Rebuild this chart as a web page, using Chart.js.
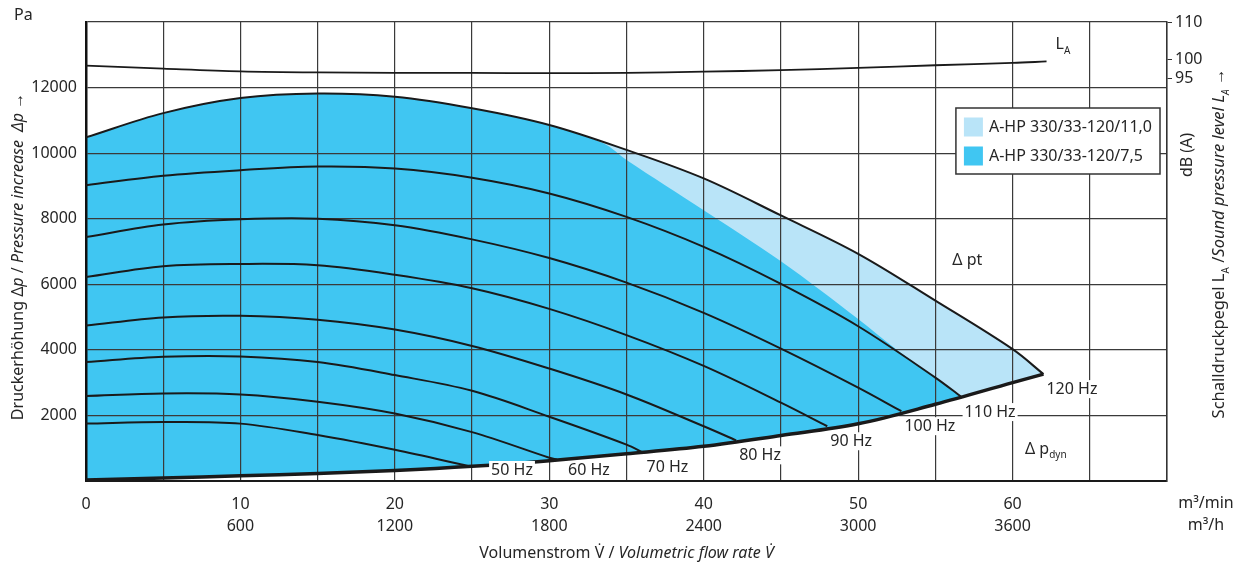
<!DOCTYPE html>
<html>
<head>
<meta charset="utf-8">
<script src="https://cdn.jsdelivr.net/npm/chart.js@4.4.1/dist/chart.umd.min.js"></script>
<style>
  body { margin: 0; background: #fff; }
  #wrap { width: 1244px; height: 564px; }
</style>
</head>
<body>
<div id="wrap"><canvas id="grafico"></canvas></div>
<script>
// tick labels
const flowTicks = [0, 10, 20, 30, 40, 50, 60];
const flowMin = ['0', '10', '20', '30', '40', '50', '60'];
const flowHour = ['', '600', '1200', '1800', '2400', '3000', '3600'];
const dbTicks = [95, 100, 110];

// speed curves [m3/min, Pa]
const hz50 = [[0, 1750], [5, 1800], [10, 1750], [15, 1400], [20, 950], [24.8, 450]];
const hz60 = [[0, 2590], [5, 2670], [10, 2640], [15, 2420], [20, 2060], [25, 1490], [30, 710], [30.5, 650]];
const hz70 = [[0, 3630], [5, 3790], [10, 3800], [15, 3630], [20, 3230], [25, 2750], [30, 1960], [35, 1110], [36.1, 860]];
const hz80 = [[0, 4740], [5, 4990], [10, 5040], [15, 4920], [20, 4620], [25, 4120], [30, 3430], [35, 2640], [40, 1670], [42.1, 1240]];
const hz90 = [[0, 6220], [5, 6550], [10, 6620], [15, 6580], [20, 6290], [25, 5880], [30, 5250], [35, 4450], [40, 3510], [45, 2390], [48, 1670]];
const hz100 = [[0, 7440], [5, 7820], [10, 7980], [15, 8000], [20, 7800], [25, 7370], [30, 6800], [35, 6050], [40, 5130], [45, 4040], [50, 2850], [52.8, 2130]];
const hz110 = [[0, 9020], [5, 9310], [10, 9480], [15, 9590], [20, 9530], [25, 9250], [30, 8770], [35, 8055], [40, 7140], [45, 6010], [50, 4720], [55, 3155], [56.7, 2560]];
const hz120 = [[0, 10480], [5, 11220], [10, 11680], [15, 11820], [20, 11720], [25, 11370], [30, 10860], [35, 10100], [40, 9230], [45, 8100], [50, 6930], [55, 5500], [60, 4020], [62, 3260]];
// upper edge of the 7,5 kW field
const edge75 = [[0, 10480], [5, 11220], [10, 11680], [15, 11820], [20, 11720], [25, 11370], [30, 10860], [33.5, 10300], [35, 9790], [40, 8258], [45, 6700], [50, 4940], [52.5, 4000], [55, 3155], [56.7, 2560]];
// dynamic pressure
const dynPressure = [[0, 30], [5, 90], [10, 160], [15, 230], [20, 320], [25, 447], [30, 620], [35, 830], [40, 1060], [45, 1390], [50, 1745], [55, 2340], [60, 3000], [62, 3260]];
// sound pressure level dB(A)
const soundLevel = [[0, 98.5], [5, 97.7], [10, 97.0], [15, 96.7], [20, 96.6], [25, 96.6], [30, 96.5], [35, 96.6], [40, 96.9], [45, 97.3], [50, 97.9], [55, 98.6], [60, 99.2], [62.2, 99.6]];

const speedCurves = [hz50, hz60, hz70, hz80, hz90, hz100, hz110, hz120];
const speedNames = ['50 Hz', '60 Hz', '70 Hz', '80 Hz', '90 Hz', '100 Hz', '110 Hz', '120 Hz'];

const fuente = "'Noto Sans', 'Open Sans', sans-serif";
const tinta = '#262626';
const rejilla = '#3a3a3a';

function puntos(par) {
  return par.map(p => ({ x: p[0], y: p[1] }));
}

function fontDe(p, size) {
  return (p.i ? 'italic ' : '') + (p.sub ? Math.round(size * 0.62) : size) + 'px ' + fuente;
}

// draws text made of normal / italic / subscript parts
function textoMixto(ctx, partes, x, y, size, align) {
  let total = 0;
  partes.forEach(p => { ctx.font = fontDe(p, size); total += ctx.measureText(p.t).width; });
  let cx = x;
  if (align === 'center') cx = x - total / 2;
  if (align === 'right') cx = x - total;
  ctx.textAlign = 'left';
  ctx.textBaseline = 'alphabetic';
  partes.forEach(p => {
    ctx.font = fontDe(p, size);
    ctx.fillText(p.t, cx, y + (p.sub ? size * 0.28 : 0));
    cx += ctx.measureText(p.t).width;
  });
  return total;
}

const lineaNegra = {
  borderColor: '#1a1a1a',
  borderWidth: 2,
  pointRadius: 0,
  fill: false,
  tension: 0.35,
  yAxisID: 'y'
};

const datasets = [
  {
    label: 'A-HP 330/33-120/7,5',
    data: puntos(edge75),
    borderColor: 'rgba(0,0,0,0)',
    borderWidth: 0,
    pointRadius: 0,
    backgroundColor: '#40c6f2',
    fill: { target: 2 },
    tension: 0.35,
    yAxisID: 'y'
  },
  Object.assign({}, lineaNegra, {
    label: 'A-HP 330/33-120/11,0',
    data: puntos(hz120),
    backgroundColor: '#b9e4f8',
    fill: { target: 2 }
  }),
  Object.assign({}, lineaNegra, { label: 'Δ p dyn', data: puntos(dynPressure), borderWidth: 3.5 })
];
speedCurves.slice(0, 7).forEach((c, i) => {
  datasets.push(Object.assign({}, lineaNegra, { label: speedNames[i], data: puntos(c) }));
});
datasets.push(Object.assign({}, lineaNegra, { label: 'L_A', data: puntos(soundLevel), yAxisID: 'yR', borderWidth: 1.8 }));

const textos = {
  id: 'textos',
  afterDraw(chart) {
    const ctx = chart.ctx;
    const a = chart.chartArea;
    const xs = chart.scales.x, ys = chart.scales.y, yr = chart.scales.yR;
    ctx.save();
    ctx.fillStyle = tinta;

    // speed labels next to curve ends, sliding right when they hit the bottom
    speedCurves.forEach((c, i) => {
      const fin = c[c.length - 1];
      const rawY = ys.getPixelForValue(fin[1]) + 15;
      const py = Math.min(rawY, a.bottom - 11);
      const px = xs.getPixelForValue(fin[0]) + 3 + (rawY - py) * 1.7;
      ctx.font = '16px ' + fuente;
      const w = ctx.measureText(speedNames[i]).width;
      ctx.fillStyle = '#fff';
      ctx.fillRect(px - 2, py - 9, w + 4, 18);
      ctx.fillStyle = tinta;
      ctx.textAlign = 'left';
      ctx.textBaseline = 'middle';
      ctx.fillText(speedNames[i], px, py);
    });

    // curve names inside the plot
    const la = soundLevel[soundLevel.length - 1];
    textoMixto(ctx, [{ t: 'L' }, { t: 'A', sub: true }], xs.getPixelForValue(la[0]) + 9, yr.getPixelForValue(la[1]) - 12, 16, 'left');
    textoMixto(ctx, [{ t: 'Δ pt' }], xs.getPixelForValue(56.1), ys.getPixelForValue(6780) + 6, 16, 'left');
    textoMixto(ctx, [{ t: 'Δ p' }, { t: 'dyn', sub: true }], xs.getPixelForValue(60.8), ys.getPixelForValue(1020) + 6, 16, 'left');

    // legend
    const items = [chart.data.datasets[1], chart.data.datasets[0]];
    ctx.font = '16px ' + fuente;
    const tw = Math.max(...items.map(d => ctx.measureText(d.label).width));
    const bw = 33 + tw + 8, bh = 66;
    const bx = a.right - 7 - bw, by = a.top + 86;
    ctx.fillStyle = '#fff';
    ctx.fillRect(bx, by, bw, bh);
    ctx.strokeStyle = '#333';
    ctx.lineWidth = 1.5;
    ctx.strokeRect(bx, by, bw, bh);
    items.forEach((d, i) => {
      const cy = by + 19 + i * 29;
      ctx.fillStyle = d.backgroundColor;
      ctx.fillRect(bx + 8, cy - 9.5, 19, 19);
      ctx.fillStyle = tinta;
      ctx.textAlign = 'left';
      ctx.textBaseline = 'middle';
      ctx.font = '16px ' + fuente;
      ctx.fillText(d.label, bx + 33, cy);
    });

    // axis titles and units
    ctx.fillStyle = tinta;
    textoMixto(ctx, [{ t: 'Pa' }], 14, 20, 16, 'left');
    textoMixto(ctx, [{ t: 'm³/min' }], 1206, 508, 16, 'center');
    textoMixto(ctx, [{ t: 'm³/h' }], 1206, 530, 16, 'center');
    textoMixto(ctx, [{ t: 'Volumenstrom V\u0307 / ' }, { t: 'Volumetric flow rate V\u0307', i: true }], (a.left + a.right) / 2, 558, 16, 'center');

    ctx.save();
    ctx.translate(23, (a.top + a.bottom) / 2 + 5);
    ctx.rotate(-Math.PI / 2);
    textoMixto(ctx, [{ t: 'Druckerhöhung Δ' }, { t: 'p', i: true }, { t: ' / ' }, { t: 'Pressure increase  Δp', i: true }, { t: ' →' }], 0, 0, 16, 'center');
    ctx.restore();

    ctx.save();
    ctx.translate(1192, 155);
    ctx.rotate(-Math.PI / 2);
    textoMixto(ctx, [{ t: 'dB (A)' }], 0, 0, 16, 'center');
    ctx.restore();

    ctx.save();
    ctx.translate(1224, (a.top + a.bottom) / 2 - 8);
    ctx.rotate(-Math.PI / 2);
    textoMixto(ctx, [{ t: 'Schalldruckpegel L' }, { t: 'A', sub: true }, { t: ' /' }, { t: 'Sound pressure level L', i: true }, { t: 'A', i: true, sub: true }, { t: ' →' }], 0, 0, 16.5, 'center');
    ctx.restore();

    ctx.restore();
  }
};

new Chart(document.getElementById('grafico'), {
  type: 'line',
  data: { datasets: datasets },
  options: {
    responsive: true,
    maintainAspectRatio: false,
    animation: false,
    events: [],
    layout: { padding: { top: 22, left: 0, right: 0, bottom: 0 } },
    plugins: {
      legend: { display: false },
      tooltip: { enabled: false },
      filler: { drawTime: 'beforeDraw', propagate: false }
    },
    scales: {
      x: {
        type: 'linear',
        min: 0,
        max: 70,
        afterBuildTicks(s) { s.ticks = []; for (let v = 0; v <= 70; v += 5) s.ticks.push({ value: v }); },
        afterFit(s) { s.height = 83; },
        grid: { color: rejilla, lineWidth: 1.2, drawTicks: false },
        border: { color: '#1a1a1a', width: 2 },
        ticks: {
          autoSkip: false,
          maxRotation: 0,
          padding: 12,
          color: tinta,
          font: { family: fuente, size: 16, lineHeight: 1.375 },
          callback(v) {
            const i = flowTicks.indexOf(v);
            return i < 0 ? '' : [flowMin[i], flowHour[i]];
          }
        }
      },
      y: {
        min: 0,
        max: 14000,
        afterBuildTicks(s) { s.ticks = []; for (let v = 0; v <= 14000; v += 2000) s.ticks.push({ value: v }); },
        afterFit(s) { s.width = 86; },
        grid: { color: rejilla, lineWidth: 1.2, drawTicks: false },
        border: { color: '#111', width: 2.5 },
        ticks: {
          padding: 9,
          color: tinta,
          font: { family: fuente, size: 16 },
          callback(v) { return (v === 0 || v === 14000) ? '' : String(v); }
        }
      },
      yR: {
        position: 'right',
        min: -11,
        max: 110,
        afterBuildTicks(s) { s.ticks = dbTicks.map(v => ({ value: v })); },
        afterFit(s) { s.width = 77; },
        grid: { drawOnChartArea: false, color: '#333', tickLength: 5 },
        border: { color: '#333', width: 1.5 },
        ticks: {
          padding: 3,
          color: tinta,
          font: { family: fuente, size: 16 }
        }
      }
    }
  },
  plugins: [textos]
});
</script>
</body>
</html>
